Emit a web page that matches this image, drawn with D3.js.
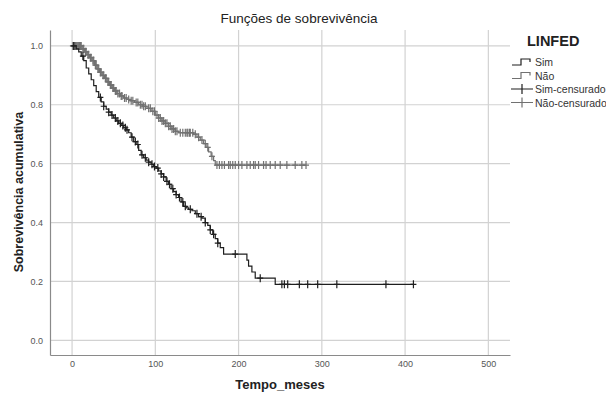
<!DOCTYPE html>
<html>
<head>
<meta charset="utf-8">
<script src="https://cdn.jsdelivr.net/npm/d3@7"></script>
<style>
  body { margin: 0; background: #fff; }
  svg text { font-family: "Liberation Sans", Arial, sans-serif; }
</style>
</head>
<body>
<svg id="kmSvg" width="606" height="395"></svg>
<script>
// Kaplan-Meier steps
const simTimes = [0, 5, 8, 11, 14, 17, 20, 23, 26, 29, 32, 35, 38, 41, 44, 47, 50, 53, 56, 59, 62, 65, 68, 71, 74, 77, 80, 83, 86, 89, 92, 95, 98, 101, 104, 107, 110, 113, 116, 119, 122, 125, 128, 131, 134, 137, 140, 144, 148, 152, 156, 160, 163, 166, 169, 172, 175, 178, 182, 210, 212, 216, 220, 244];
const simSurv = [1.0, 0.99, 0.98, 0.965, 0.95, 0.925, 0.905, 0.885, 0.865, 0.845, 0.825, 0.81, 0.795, 0.785, 0.775, 0.765, 0.755, 0.745, 0.737, 0.73, 0.722, 0.715, 0.705, 0.69, 0.675, 0.665, 0.645, 0.63, 0.62, 0.612, 0.605, 0.598, 0.59, 0.585, 0.575, 0.565, 0.555, 0.54, 0.53, 0.515, 0.505, 0.495, 0.485, 0.47, 0.455, 0.45, 0.445, 0.44, 0.43, 0.42, 0.415, 0.40, 0.39, 0.375, 0.36, 0.345, 0.33, 0.315, 0.293, 0.272, 0.252, 0.232, 0.211, 0.19];
const simEnd = 410;
const simCensored = [2, 13, 34, 38, 44, 48, 52, 55, 58, 61, 64, 66, 72, 76, 79, 84, 88, 92, 96, 99, 103, 107, 110, 114, 117, 121, 125, 129, 133, 136, 142, 150, 155, 160, 166, 170, 175, 196, 226, 252, 255, 259, 273, 283, 295, 318, 377, 410];

const naoTimes = [0, 12, 15, 18, 21, 24, 27, 30, 33, 36, 39, 42, 45, 48, 51, 54, 58, 62, 66, 70, 75, 80, 85, 90, 95, 100, 104, 108, 112, 116, 120, 124, 128, 146, 150, 154, 158, 161, 164, 167, 170, 172];
const naoSurv = [1.0, 0.99, 0.98, 0.97, 0.96, 0.95, 0.935, 0.922, 0.91, 0.9, 0.89, 0.878, 0.867, 0.857, 0.847, 0.838, 0.83, 0.823, 0.818, 0.814, 0.808, 0.80, 0.795, 0.788, 0.778, 0.765, 0.755, 0.745, 0.737, 0.727, 0.718, 0.71, 0.705, 0.70, 0.69, 0.68, 0.668, 0.655, 0.64, 0.625, 0.61, 0.595];
const naoEnd = 281;
const naoCensored = [1, 2, 3, 4, 5, 6, 7, 8, 9, 10, 11, 13, 14, 16, 17, 19, 20, 22, 23, 25, 26, 28, 29, 31, 32, 34, 35, 37, 38, 40, 41, 43, 44, 46, 47, 49, 50, 52, 53, 55, 57, 59, 60, 63, 65, 68, 71, 73, 77, 79, 82, 84, 86, 88, 92, 94, 97, 99, 102, 104, 106, 108, 110, 112, 114, 116, 118, 120, 122, 124, 126, 130, 133, 136, 138, 139, 141, 142, 145, 148, 152, 156, 160, 163, 168, 174, 177, 180, 183, 188, 190, 193, 196, 200, 204, 210, 214, 218, 220, 224, 230, 233, 238, 244, 250, 258, 268, 276, 281];

const xTicks = [0, 100, 200, 300, 400, 500];
const yTicks = [0.0, 0.2, 0.4, 0.6, 0.8, 1.0];

const svg = d3.select("#kmSvg");
const plotLeft = 50, plotRight = 510, plotTop = 30, plotBottom = 355;

const x = d3.scaleLinear().domain([-26.5, 526]).range([plotLeft, plotRight]);
const y = d3.scaleLinear().domain([-0.05, 1.054]).range([plotBottom, plotTop]);

// grid
svg.append("g").selectAll("line").data(xTicks).enter().append("line")
    .attr("x1", d => x(d)).attr("x2", d => x(d))
    .attr("y1", plotTop).attr("y2", plotBottom)
    .attr("stroke", "#d2d2d2").attr("stroke-width", 1.2);
svg.append("g").selectAll("line").data(yTicks).enter().append("line")
    .attr("x1", plotLeft).attr("x2", plotRight)
    .attr("y1", d => y(d)).attr("y2", d => y(d))
    .attr("stroke", "#d2d2d2").attr("stroke-width", 1.2);

// axes
const xAxis = svg.append("g")
    .attr("transform", `translate(0,${plotBottom})`)
    .call(d3.axisBottom(x).tickValues(xTicks).tickFormat(d3.format("d")).tickSize(0).tickPadding(6));
const yAxis = svg.append("g")
    .attr("transform", `translate(${plotLeft},0)`)
    .call(d3.axisLeft(y).tickValues(yTicks).tickFormat(d3.format(".1f")).tickSize(0).tickPadding(7));
[xAxis, yAxis].forEach(a => {
    a.select(".domain").attr("stroke", "#8a8a8a").attr("stroke-width", 1.2);
    a.selectAll("text").attr("fill", "#555").style("font-size", "9px");
});

// curves
function survAt(times, surv, t) {
    const i = d3.bisectRight(times, t) - 1;
    return surv[Math.max(0, i)];
}
function stepData(times, surv, end) {
    const pts = times.map((t, i) => [t, surv[i]]);
    pts.push([end, surv[surv.length - 1]]);
    return pts;
}
const line = d3.line().x(d => x(d[0])).y(d => y(d[1])).curve(d3.curveStepAfter);

const groups = [
    { times: naoTimes, surv: naoSurv, end: naoEnd, cens: naoCensored, color: "#717171" },
    { times: simTimes, surv: simSurv, end: simEnd, cens: simCensored, color: "#1e1e1e" }
];

groups.forEach(gp => {
    svg.append("path")
        .datum(stepData(gp.times, gp.surv, gp.end))
        .attr("fill", "none")
        .attr("stroke", gp.color)
        .attr("stroke-width", 1.2)
        .attr("d", line);

    svg.append("g").selectAll("path")
        .data(gp.cens)
        .enter()
        .append("path")
        .attr("transform", d => `translate(${x(d)},${y(survAt(gp.times, gp.surv, d))})`)
        .attr("d", "M-3,0H3M0,-4V4")
        .attr("stroke", gp.color)
        .attr("stroke-width", 1.2);
});

// titles
svg.append("text")
    .attr("x", 299).attr("y", 23)
    .attr("text-anchor", "middle")
    .style("font-size", "13.5px").attr("fill", "#222")
    .text("Funções de sobrevivência");
svg.append("text")
    .attr("x", 280).attr("y", 389)
    .attr("text-anchor", "middle")
    .style("font-size", "13px").style("font-weight", "bold").attr("fill", "#222")
    .text("Tempo_meses");
svg.append("text")
    .attr("transform", "translate(23,192) rotate(-90)")
    .attr("text-anchor", "middle")
    .style("font-size", "12.5px").style("font-weight", "bold").attr("fill", "#222")
    .text("Sobrevivência acumulativa");

// legend
const legend = svg.append("g");
legend.append("text")
    .attr("x", 527).attr("y", 46)
    .style("font-size", "14.5px").style("font-weight", "bold").attr("fill", "#222")
    .text("LINFED");

const legendItems = [
    { label: "Sim", color: "#1e1e1e", type: "step" },
    { label: "Não", color: "#717171", type: "step" },
    { label: "Sim-censurado", color: "#1e1e1e", type: "cens" },
    { label: "Não-censurado", color: "#717171", type: "cens" }
];
legendItems.forEach((it, i) => {
    const ly = 62 + i * 13.5;
    if (it.type === "step") {
        legend.append("path")
            .attr("d", `M512,${ly + 3}H521V${ly - 3}H530V${ly}`)
            .attr("fill", "none").attr("stroke", it.color).attr("stroke-width", 1.2);
    } else {
        legend.append("path")
            .attr("d", `M511,${ly}H533M522,${ly - 5}V${ly + 5}`)
            .attr("stroke", it.color).attr("stroke-width", 1.2);
    }
    legend.append("text")
        .attr("x", 535).attr("y", ly + 4)
        .style("font-size", "10.5px").attr("fill", "#333")
        .text(it.label);
});
</script>
</body>
</html>
